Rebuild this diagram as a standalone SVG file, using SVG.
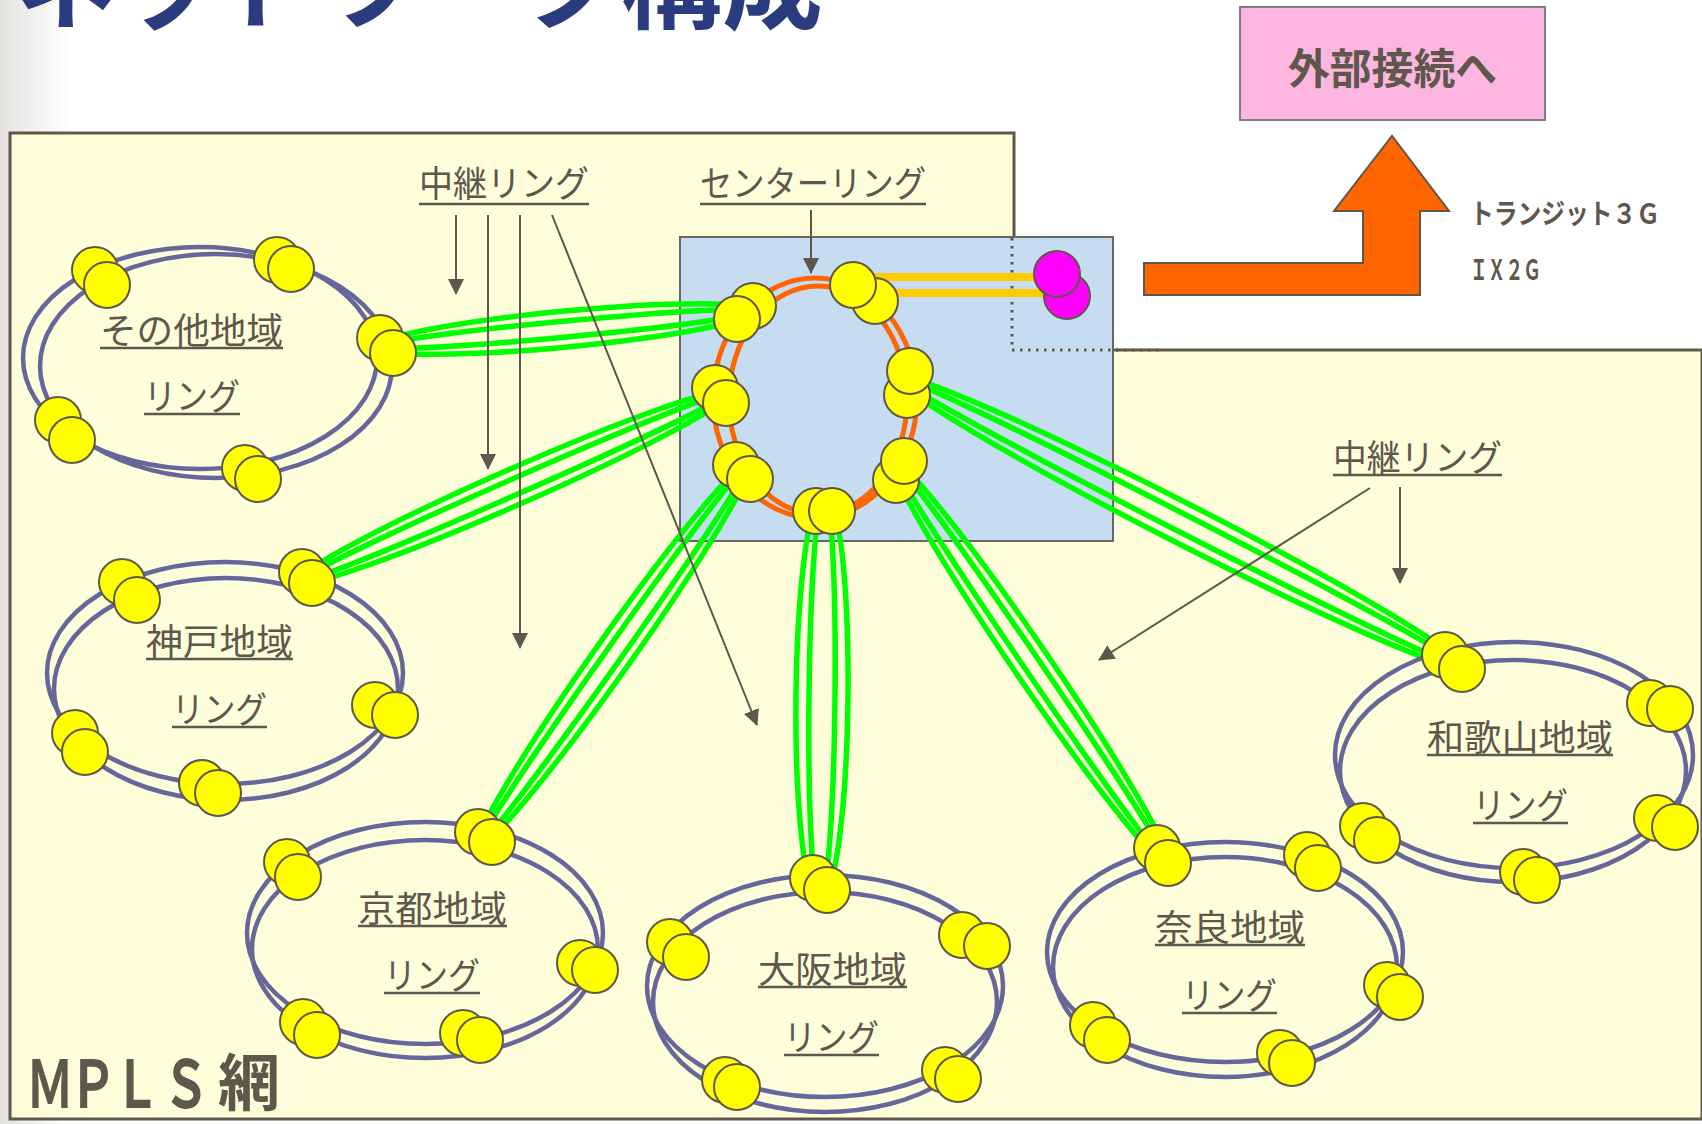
<svg xmlns="http://www.w3.org/2000/svg" width="1702" height="1124" viewBox="0 0 1702 1124">
<defs>
<linearGradient id="lg" x1="0" y1="0" x2="1" y2="0">
<stop offset="0" stop-color="#E4E3E0"/>
<stop offset="1" stop-color="#FFFFFF"/>
</linearGradient>
<marker id="ah" markerUnits="userSpaceOnUse" markerWidth="16" markerHeight="16" refX="15" refY="8" orient="auto">
<path d="M0,0 L16,8 L0,16 z" fill="#5F564C"/>
</marker>
<style>
.ring{fill:none;stroke:#66669A;stroke-width:4.5}
.nd{fill:#FFFF00;stroke:#5F564C;stroke-width:2}
.mg{fill:#FF00FF;stroke:#5F564C;stroke-width:2}
.gl{fill:none;stroke:#00FF00;stroke-width:5.5}
.lbl{font-family:"Noto Sans CJK JP","Noto Sans",sans-serif;fill:#5F564C;font-size:36px}
.bold{font-family:"Noto Sans CJK JP","Noto Sans",sans-serif;font-weight:bold;fill:#5F564C}
.ul{stroke:#5F564C;stroke-width:2.5}
.arr{stroke:#5F564C;stroke-width:2;fill:none}
.orn{fill:none;stroke:#FF6600;stroke-width:5}
.gold{stroke:#FFCC00;stroke-width:8}
</style>
</defs>
<rect x="0" y="0" width="1702" height="1124" fill="#FFFFFF"/>
<rect x="0" y="0" width="70" height="1124" fill="url(#lg)"/>
<text x="15" y="21" font-family="'Noto Sans CJK JP',sans-serif" font-weight="bold" font-size="100" fill="#2B3C7E" textLength="808" lengthAdjust="spacingAndGlyphs">ネットワーク構成</text>

<g id="mpls-area">
<path d="M10,133 L1014,133 L1014,350 L1702,350 L1702,1119 L10,1119 Z" fill="#FEFEDA" stroke="#5F564C" stroke-width="3"/>
<text class="bold" transform="scale(0.72,1)" x="69.4 129.2 190.3 258.3" y="1108" font-size="66" text-anchor="middle">ＭＰＬＳ</text>
<text class="bold" x="249" y="1106" font-size="62" text-anchor="middle">網</text>
</g>

<g id="center-box">
<rect x="680" y="237" width="433" height="304" fill="#C6DCF0" stroke="#6B6560" stroke-width="2"/>
<path d="M1012,238 L1012,350 L1160,350" fill="none" stroke="#5F564C" stroke-width="3" stroke-dasharray="2.5,5.5"/>
</g>

<g id="external">
<rect x="1240" y="7" width="305" height="113" fill="#FDB6DF" stroke="#7F7F7F" stroke-width="2"/>
<text class="bold" x="1288" y="84" font-size="42" textLength="209" lengthAdjust="spacingAndGlyphs">外部接続へ</text>
</g>

<g id="uplink-arrow">
<path d="M1144,295 L1144,263 L1363,263 L1363,211 L1334,211 L1392,136 L1449,211 L1420,211 L1420,295 Z" fill="#FF6600" stroke="#5F564C" stroke-width="2"/>
<text class="bold" x="1470" y="224" font-size="28" textLength="190" lengthAdjust="spacingAndGlyphs">トランジット３Ｇ</text>
<text class="bold" x="1470" y="280" font-size="28" textLength="71" lengthAdjust="spacingAndGlyphs">ＩＸ２Ｇ</text>
</g>

<g id="connectors">
<g id="relay-links">
<ellipse class="gl" cx="566" cy="329" rx="190" ry="18" transform="rotate(-5.4 566 329)"/>
<ellipse class="gl" cx="566" cy="329" rx="190" ry="8" transform="rotate(-5.4 566 329)"/>
<ellipse class="gl" cx="514" cy="487" rx="236" ry="18" transform="rotate(-23.7 514 487)"/>
<ellipse class="gl" cx="514" cy="487" rx="236" ry="8" transform="rotate(-23.7 514 487)"/>
<ellipse class="gl" cx="614" cy="654" rx="234" ry="18" transform="rotate(-54.7 614 654)"/>
<ellipse class="gl" cx="614" cy="654" rx="234" ry="8" transform="rotate(-54.7 614 654)"/>
<ellipse class="gl" cx="822" cy="697" rx="205" ry="26" transform="rotate(90.6 822 697)"/>
<ellipse class="gl" cx="822" cy="697" rx="205" ry="13" transform="rotate(90.6 822 697)"/>
<ellipse class="gl" cx="1031" cy="663" rx="244" ry="18" transform="rotate(55.7 1031 663)"/>
<ellipse class="gl" cx="1031" cy="663" rx="244" ry="8" transform="rotate(55.7 1031 663)"/>
<ellipse class="gl" cx="1180" cy="522" rx="316" ry="20" transform="rotate(27.1 1180 522)"/>
<ellipse class="gl" cx="1180" cy="522" rx="316" ry="9" transform="rotate(27.1 1180 522)"/>
</g>
<g id="gold-links">
<line class="gold" x1="853" y1="277" x2="1057" y2="277"/>
<line class="gold" x1="875" y1="293" x2="1067" y2="293"/>
</g>
<g id="label-arrows">
<line class="arr" x1="456" y1="215" x2="456" y2="294" marker-end="url(#ah)"/>
<line class="arr" x1="488" y1="215" x2="488" y2="469" marker-end="url(#ah)"/>
<line class="arr" x1="520" y1="215" x2="520" y2="648" marker-end="url(#ah)"/>
<line class="arr" x1="552" y1="215" x2="757" y2="725" marker-end="url(#ah)"/>
<line class="arr" x1="811" y1="210" x2="811" y2="273" marker-end="url(#ah)"/>
<line class="arr" x1="1400" y1="487" x2="1400" y2="583" marker-end="url(#ah)"/>
<line class="arr" x1="1370" y1="488" x2="1099" y2="660" marker-end="url(#ah)"/>
</g>
</g>

<g id="label-relay-top">
<text class="lbl" x="419" y="197" font-size="34" textLength="170" lengthAdjust="spacingAndGlyphs">中継リング</text>
<line class="ul" x1="419" y1="204" x2="589" y2="204"/>
</g>
<g id="label-center">
<text class="lbl" x="700" y="197" font-size="34" textLength="226" lengthAdjust="spacingAndGlyphs">センターリング</text>
<line class="ul" x1="700" y1="204" x2="926" y2="204"/>
</g>
<g id="label-relay-right">
<text class="lbl" x="1333" y="471" font-size="33" textLength="169" lengthAdjust="spacingAndGlyphs">中継リング</text>
<line class="ul" x1="1333" y1="475" x2="1502" y2="475"/>
</g>

<g id="center-ring">
<ellipse class="orn" cx="815" cy="398" rx="102" ry="120"/>
<ellipse class="orn" cx="818" cy="400" rx="89" ry="114"/>
<g id="c-tl"><circle class="nd" cx="753" cy="306" r="23"/><circle class="nd" cx="737" cy="319" r="23"/></g>
<g id="c-top"><circle class="nd" cx="875" cy="301" r="23"/><circle class="nd" cx="853" cy="285" r="23"/></g>
<g id="c-ru"><circle class="nd" cx="907" cy="395" r="23"/><circle class="nd" cx="910" cy="371" r="23"/></g>
<g id="c-l"><circle class="nd" cx="715" cy="388" r="23"/><circle class="nd" cx="726" cy="403" r="23"/></g>
<g id="c-rl"><circle class="nd" cx="896" cy="480" r="23"/><circle class="nd" cx="904" cy="461" r="23"/></g>
<g id="c-bl"><circle class="nd" cx="736" cy="465" r="23"/><circle class="nd" cx="750" cy="479" r="23"/></g>
<g id="c-b"><circle class="nd" cx="816" cy="511" r="23"/><circle class="nd" cx="832" cy="511" r="23"/></g>
<g id="c-ext"><circle class="mg" cx="1067" cy="296" r="23"/><circle class="mg" cx="1057" cy="274" r="23"/></g>
</g>

<g id="ring-other">
<ellipse class="ring" cx="200" cy="358" rx="177" ry="111"/>
<ellipse class="ring" cx="216" cy="366" rx="176" ry="112"/>
<circle class="nd" cx="95" cy="270" r="23"/><circle class="nd" cx="107" cy="285" r="23"/>
<circle class="nd" cx="277" cy="260" r="23"/><circle class="nd" cx="291" cy="269" r="23"/>
<circle class="nd" cx="380" cy="338" r="23"/><circle class="nd" cx="393" cy="353" r="23"/>
<circle class="nd" cx="58" cy="420" r="23"/><circle class="nd" cx="72" cy="440" r="23"/>
<circle class="nd" cx="245" cy="468" r="23"/><circle class="nd" cx="258" cy="479" r="23"/>
<text class="lbl" x="100" y="344" textLength="183" lengthAdjust="spacingAndGlyphs">その他地域</text>
<line class="ul" x1="100" y1="348" x2="283" y2="348"/>
<text class="lbl" x="144" y="410" textLength="96" lengthAdjust="spacingAndGlyphs">リング</text>
<line class="ul" x1="144" y1="414" x2="240" y2="414"/>
</g>

<g id="ring-kobe">
<ellipse class="ring" cx="225" cy="673" rx="178" ry="111"/>
<ellipse class="ring" cx="226" cy="689" rx="172" ry="111"/>
<circle class="nd" cx="122" cy="582" r="23"/><circle class="nd" cx="137" cy="600" r="23"/>
<circle class="nd" cx="302" cy="572" r="23"/><circle class="nd" cx="312" cy="583" r="23"/>
<circle class="nd" cx="375" cy="705" r="23"/><circle class="nd" cx="395" cy="715" r="23"/>
<circle class="nd" cx="75" cy="733" r="23"/><circle class="nd" cx="85" cy="752" r="23"/>
<circle class="nd" cx="202" cy="783" r="23"/><circle class="nd" cx="218" cy="793" r="23"/>
<text class="lbl" x="146" y="655" textLength="147" lengthAdjust="spacingAndGlyphs">神戸地域</text>
<line class="ul" x1="146" y1="659" x2="293" y2="659"/>
<text class="lbl" x="172" y="723" textLength="95" lengthAdjust="spacingAndGlyphs">リング</text>
<line class="ul" x1="172" y1="727" x2="267" y2="727"/>
</g>

<g id="ring-kyoto">
<ellipse class="ring" cx="425" cy="933" rx="178" ry="111"/>
<ellipse class="ring" cx="425" cy="949" rx="173" ry="109"/>
<circle class="nd" cx="287" cy="862" r="23"/><circle class="nd" cx="298" cy="877" r="23"/>
<circle class="nd" cx="478" cy="832" r="23"/><circle class="nd" cx="492" cy="842" r="23"/>
<circle class="nd" cx="580" cy="963" r="23"/><circle class="nd" cx="595" cy="970" r="23"/>
<circle class="nd" cx="303" cy="1022" r="23"/><circle class="nd" cx="317" cy="1035" r="23"/>
<circle class="nd" cx="463" cy="1033" r="23"/><circle class="nd" cx="480" cy="1040" r="23"/>
<text class="lbl" x="358" y="922" textLength="149" lengthAdjust="spacingAndGlyphs">京都地域</text>
<line class="ul" x1="358" y1="926" x2="507" y2="926"/>
<text class="lbl" x="384" y="989" textLength="96" lengthAdjust="spacingAndGlyphs">リング</text>
<line class="ul" x1="384" y1="993" x2="480" y2="993"/>
</g>

<g id="ring-osaka">
<ellipse class="ring" cx="825" cy="986" rx="178" ry="111"/>
<ellipse class="ring" cx="825" cy="1002" rx="172" ry="110"/>
<circle class="nd" cx="813" cy="878" r="23"/><circle class="nd" cx="827" cy="890" r="23"/>
<circle class="nd" cx="670" cy="942" r="23"/><circle class="nd" cx="686" cy="957" r="23"/>
<circle class="nd" cx="962" cy="935" r="23"/><circle class="nd" cx="987" cy="946" r="23"/>
<circle class="nd" cx="725" cy="1080" r="23"/><circle class="nd" cx="737" cy="1087" r="23"/>
<circle class="nd" cx="945" cy="1070" r="23"/><circle class="nd" cx="958" cy="1079" r="23"/>
<text class="lbl" x="758" y="983" textLength="149" lengthAdjust="spacingAndGlyphs">大阪地域</text>
<line class="ul" x1="758" y1="987" x2="907" y2="987"/>
<text class="lbl" x="784" y="1051" textLength="95" lengthAdjust="spacingAndGlyphs">リング</text>
<line class="ul" x1="784" y1="1055" x2="879" y2="1055"/>
</g>

<g id="ring-nara">
<ellipse class="ring" cx="1225" cy="952" rx="178" ry="110"/>
<ellipse class="ring" cx="1225" cy="967" rx="172" ry="110"/>
<circle class="nd" cx="1157" cy="848" r="23"/><circle class="nd" cx="1168" cy="863" r="23"/>
<circle class="nd" cx="1307" cy="855" r="23"/><circle class="nd" cx="1318" cy="868" r="23"/>
<circle class="nd" cx="1387" cy="985" r="23"/><circle class="nd" cx="1400" cy="997" r="23"/>
<circle class="nd" cx="1093" cy="1025" r="23"/><circle class="nd" cx="1107" cy="1040" r="23"/>
<circle class="nd" cx="1280" cy="1053" r="23"/><circle class="nd" cx="1292" cy="1063" r="23"/>
<text class="lbl" x="1155" y="941" textLength="150" lengthAdjust="spacingAndGlyphs">奈良地域</text>
<line class="ul" x1="1155" y1="945" x2="1305" y2="945"/>
<text class="lbl" x="1182" y="1009" textLength="95" lengthAdjust="spacingAndGlyphs">リング</text>
<line class="ul" x1="1182" y1="1013" x2="1277" y2="1013"/>
</g>

<g id="ring-wakayama">
<ellipse class="ring" cx="1514" cy="755" rx="179" ry="113"/>
<ellipse class="ring" cx="1513" cy="771" rx="173" ry="111"/>
<circle class="nd" cx="1445" cy="655" r="23"/><circle class="nd" cx="1462" cy="669" r="23"/>
<circle class="nd" cx="1650" cy="703" r="23"/><circle class="nd" cx="1670" cy="709" r="23"/>
<circle class="nd" cx="1657" cy="818" r="23"/><circle class="nd" cx="1675" cy="827" r="23"/>
<circle class="nd" cx="1363" cy="826" r="23"/><circle class="nd" cx="1377" cy="840" r="23"/>
<circle class="nd" cx="1523" cy="872" r="23"/><circle class="nd" cx="1537" cy="880" r="23"/>
<text class="lbl" x="1427" y="751" textLength="186" lengthAdjust="spacingAndGlyphs">和歌山地域</text>
<line class="ul" x1="1427" y1="755" x2="1613" y2="755"/>
<text class="lbl" x="1473" y="819" textLength="95" lengthAdjust="spacingAndGlyphs">リング</text>
<line class="ul" x1="1473" y1="823" x2="1568" y2="823"/>
</g>
</svg>
